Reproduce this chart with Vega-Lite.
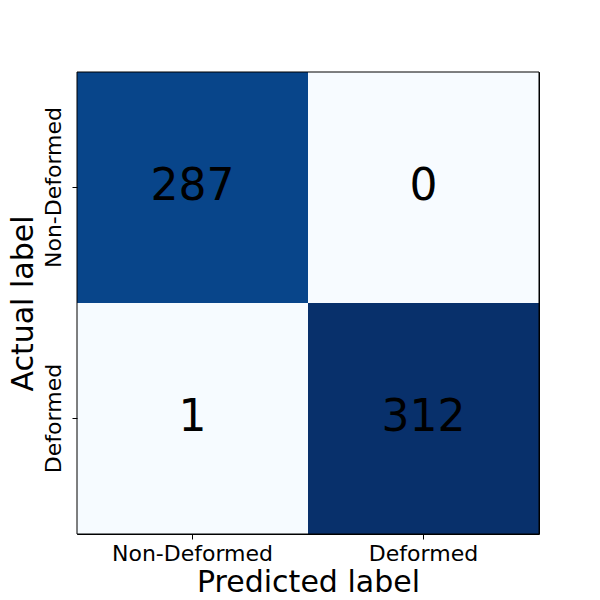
{
  "$schema": "https://vega.github.io/schema/vega-lite/v6.json",
  "autosize": "none",
  "width": 462,
  "height": 462,
  "padding": {"left": 77, "top": 72, "right": 61, "bottom": 66},
  "background": "white",
  "datasets": {
    "cm": [
      {"actual": "Non-Deformed", "predicted": "Non-Deformed", "count": 287},
      {"actual": "Non-Deformed", "predicted": "Deformed", "count": 0},
      {"actual": "Deformed", "predicted": "Non-Deformed", "count": 1},
      {"actual": "Deformed", "predicted": "Deformed", "count": 312}
    ],
    "frame": [{"name": "frame"}]
  },
  "layer": [
    {
      "data": {"name": "cm"},
      "mark": {"type": "rect"},
      "encoding": {
        "x": {
          "field": "predicted", "type": "nominal",
          "sort": ["Non-Deformed", "Deformed"],
          "title": "Predicted label",
          "axis": {
            "labelAngle": 0, "labelFont": "DejaVu Sans", "labelFontSize": 22, "labelColor": "black",
            "titleFont": "DejaVu Sans", "titleFontSize": 30, "titleFontWeight": "normal", "titleColor": "black",
            "tickColor": "black", "tickSize": 5, "labelPadding": 4, "titlePadding": 3,
            "domain": false, "grid": false
          }
        },
        "y": {
          "field": "actual", "type": "nominal",
          "sort": ["Non-Deformed", "Deformed"],
          "title": "Actual label",
          "axis": {
            "labelAngle": -90, "labelAlign": "center", "labelBaseline": "bottom",
            "labelFont": "DejaVu Sans", "labelFontSize": 22, "labelColor": "black",
            "titleFont": "DejaVu Sans", "titleFontSize": 30, "titleFontWeight": "normal", "titleColor": "black",
            "tickColor": "black", "tickSize": 5, "labelPadding": 7, "titlePadding": 4,
            "domain": false, "grid": false
          }
        },
        "color": {
          "field": "count", "type": "quantitative", "legend": null,
          "scale": {
            "domain": [0, 39, 78, 117, 156, 195, 234, 273, 312],
            "range": ["#f7fbff", "#deebf7", "#c6dbef", "#9ecae1", "#6baed6", "#4292c6", "#2171b5", "#08519c", "#08306b"],
            "interpolate": "rgb"
          }
        }
      }
    },
    {
      "data": {"name": "cm"},
      "mark": {"type": "text", "font": "DejaVu Sans", "fontSize": 44, "color": "black", "baseline": "middle", "align": "center", "dy": -1},
      "encoding": {
        "x": {"field": "predicted", "type": "nominal", "sort": ["Non-Deformed", "Deformed"]},
        "y": {"field": "actual", "type": "nominal", "sort": ["Non-Deformed", "Deformed"]},
        "text": {"field": "count", "type": "quantitative"}
      }
    },
    {
      "data": {"name": "frame"},
      "mark": {"type": "rect", "fill": null, "fillOpacity": 0, "stroke": "black", "strokeWidth": 1},
      "encoding": {}
    }
  ],
  "config": {
    "view": {"stroke": "black", "strokeWidth": 1},
    "scale": {"bandPaddingInner": 0, "bandPaddingOuter": 0}
  }
}
